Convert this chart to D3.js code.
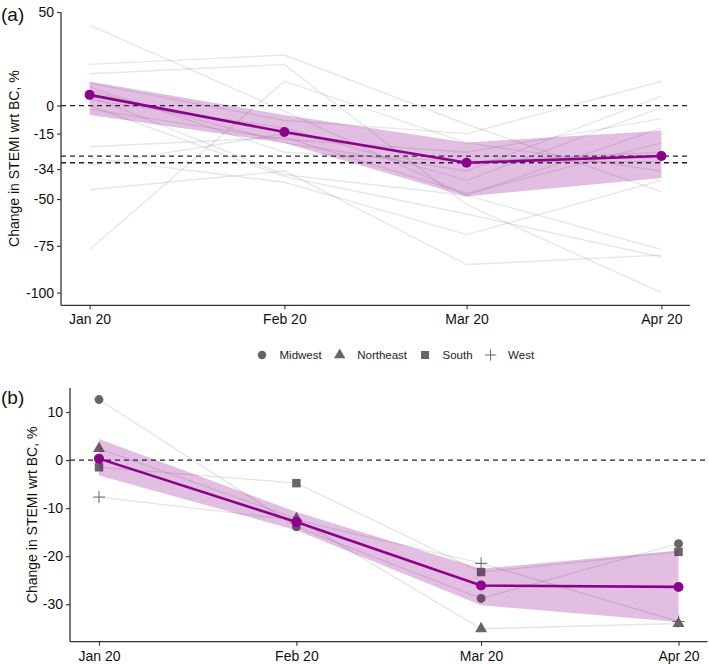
<!DOCTYPE html>
<html>
<head>
<meta charset="utf-8">
<script src="https://cdn.jsdelivr.net/npm/d3@7"></script>
<style>
  html, body { margin: 0; padding: 0; background: #fff; }
  svg { display: block; font-family: "Liberation Sans", Arial, sans-serif; }
</style>
</head>
<body>
<svg id="chart" width="709" height="664"></svg>
<script>
// ---------------- DATA ----------------
const monthDates = ["2020-01-01", "2020-02-01", "2020-03-01", "2020-04-01"];
const monthLabels = ["Jan 20", "Feb 20", "Mar 20", "Apr 20"];

// Panel (a)
const aYTicks = [50, 0, -15, -34, -50, -75, -100];
const aRefLines = [0, -27, -30.6];
const aMean = [5.7, -14.2, -30.6, -27.0];
const aLower = [-5, -20, -48.6, -38.8];
const aUpper = [12.8, -5, -19.7, -13.5];
const aStateLines = [
  [43, -3, -48, -77],
  [22, 27, -10, -46],
  [17, 22, -53, -100],
  [12, -8, -15, 13],
  [8, -20, -35, 5],
  [3, -12, -40, -1],
  [0, -38, -58, -81],
  [-2, -18, -25, -7],
  [-22, -17, -47, -20],
  [-28, -41, -69, -40],
  [-32, -15, -30, -30],
  [-45, -35, -85, -80],
  [-77, 13, -20, -35],
  [10, -25, -30, -25],
  [5, -37, -48, -12]
];

// Panel (b)
const bYTicks = [10, 0, -10, -20, -30];
const bRefLines = [0];
const regions = ["Midwest", "Northeast", "South", "West"];
const bMidwest = [12.6, -13.9, -28.8, -17.4];
const bNortheast = [2.4, -12.2, -35.1, -34.0];
const bSouth = [-1.5, -4.8, -23.3, -19.1];
const bWest = [-7.7, -12.5, -21.5, -33.6];
const bMean = [0.3, -12.9, -26.1, -26.4];
const bLower = [-3.2, -14.6, -30.2, -33.7];
const bUpper = [4.4, -10.8, -22.6, -18.8];

// ---------------- STYLE ----------------
const PURPLE = "#8b008b";
const GREY_LINE = "#9a9a9a";
const GREY_PT = "#666666";
const dates = monthDates.map(d => new Date(d + "T00:00:00"));
const DAY = 86400000;

const svg = d3.select("#chart");

function drawPanel(opts) {
  const g = svg.append("g");
  const x = d3.scaleTime()
    .domain([new Date(+dates[0] - 4.55 * DAY), new Date(+dates[3] + 4.55 * DAY)])
    .range([opts.left, opts.right]);
  const y = d3.scaleLinear().domain(opts.yDomain).range([opts.bottom, opts.top]);

  // reference dashed lines
  g.selectAll(".ref").data(opts.refLines).join("line")
    .attr("x1", opts.left).attr("x2", opts.right)
    .attr("y1", d => y(d)).attr("y2", d => y(d))
    .attr("stroke", "#222").attr("stroke-width", 1.3)
    .attr("stroke-dasharray", "5,4");

  const line = d3.line().x((d, i) => x(dates[i])).y(d => y(d));

  // grey individual lines
  g.selectAll(".grey").data(opts.greyLines).join("path")
    .attr("d", line).attr("fill", "none")
    .attr("stroke", GREY_LINE).attr("stroke-opacity", opts.greyOpacity)
    .attr("stroke-width", 1.4);

  // grey markers (panel b)
  if (opts.markers) {
    opts.markers.forEach(m => {
      m.values.forEach((v, i) => {
        drawSymbol(g, m.shape, x(dates[i]), y(v), 1);
      });
    });
  }

  // ribbon
  const area = d3.area()
    .x((d, i) => x(dates[i]))
    .y0((d, i) => y(opts.lower[i]))
    .y1((d, i) => y(opts.upper[i]));
  g.append("path").datum(opts.mean).attr("d", area)
    .attr("fill", PURPLE).attr("fill-opacity", 0.25);

  // mean line
  g.append("path").datum(opts.mean).attr("d", line)
    .attr("fill", "none").attr("stroke", PURPLE).attr("stroke-width", 2.6);
  g.selectAll(".mpt").data(opts.mean).join("circle")
    .attr("cx", (d, i) => x(dates[i])).attr("cy", d => y(d))
    .attr("r", 5).attr("fill", PURPLE);

  // axes
  const yAxis = d3.axisLeft(y).tickValues(opts.yTicks).tickSize(4).tickPadding(3)
    .tickFormat(d => String(d));
  const ga = g.append("g").attr("transform", `translate(${opts.left},0)`).call(yAxis);
  ga.select(".domain").attr("d", `M0,${opts.top}V${opts.bottom}`).attr("stroke", "#333").attr("stroke-width", 1.3);
  ga.selectAll(".tick line").attr("stroke", "#333").attr("stroke-width", 1.1);
  ga.selectAll(".tick text").attr("font-size", 14).attr("fill", "#111")
    .attr("font-family", "Liberation Sans, Arial, sans-serif");

  const xAxis = d3.axisBottom(x).tickValues(dates).tickSize(4).tickPadding(5)
    .tickFormat((d, i) => monthLabels[i]);
  const gx = g.append("g").attr("transform", `translate(0,${opts.bottom})`).call(xAxis);
  gx.select(".domain").attr("d", `M${opts.left},0H${opts.right}`).attr("stroke", "#333").attr("stroke-width", 1.3);
  gx.selectAll(".tick line").attr("stroke", "#333").attr("stroke-width", 1.1);
  gx.selectAll(".tick text").attr("font-size", 14).attr("fill", "#111")
    .attr("font-family", "Liberation Sans, Arial, sans-serif");

  // y title
  g.append("text")
    .attr("transform", `translate(${opts.titleX},${(opts.top + opts.bottom) / 2}) rotate(-90)`)
    .attr("text-anchor", "middle").attr("font-size", 14).attr("fill", "#111")
    .text("Change in STEMI wrt BC, %");

  // panel tag
  g.append("text").attr("x", 1).attr("y", opts.tagY)
    .attr("font-size", 19).attr("fill", "#111").text(opts.tag);
}

function drawSymbol(g, shape, cx, cy, scale) {
  if (shape === "plus") {
    const h = 6 * scale;
    g.append("path")
      .attr("d", `M${cx - h},${cy}H${cx + h}M${cx},${cy - h}V${cy + h}`)
      .attr("stroke", GREY_PT).attr("stroke-width", 1).attr("fill", "none");
    return;
  }
  const typ = shape === "circle" ? d3.symbolCircle : shape === "triangle" ? d3.symbolTriangle : d3.symbolSquare;
  const size = shape === "circle" ? 62 : shape === "triangle" ? 62 : 72;
  g.append("path")
    .attr("d", d3.symbol().type(typ).size(size * scale * scale)())
    .attr("transform", `translate(${cx},${cy})`)
    .attr("fill", GREY_PT);
}

// Panel (a)
drawPanel({
  left: 61, right: 690, top: 12, bottom: 305.3,
  yDomain: [-106.8, 50], yTicks: aYTicks, refLines: aRefLines,
  greyLines: aStateLines, greyOpacity: 0.24,
  mean: aMean, lower: aLower, upper: aUpper,
  titleX: 19, tag: "(a)", tagY: 21
});

// Panel (b)
const shapes = ["circle", "triangle", "square", "plus"];
const bSeries = [bMidwest, bNortheast, bSouth, bWest];
drawPanel({
  left: 70, right: 707.5, top: 388, bottom: 641.7,
  yDomain: [-37.8, 15], yTicks: bYTicks, refLines: bRefLines,
  greyLines: bSeries, greyOpacity: 0.26,
  mean: bMean, lower: bLower, upper: bUpper,
  markers: bSeries.map((v, i) => ({ values: v, shape: shapes[i] })),
  titleX: 37, tag: "(b)", tagY: 404
});

// Legend
const lg = svg.append("g");
let lx = 262;
const ly = 355;
regions.forEach((r, i) => {
  drawSymbol(lg, shapes[i], lx, ly, 0.95);
  const t = lg.append("text").attr("x", lx + 17.5).attr("y", ly + 4)
    .attr("font-size", 11.5).attr("fill", "#222").text(r);
  lx = lx + 17.5 + t.node().getComputedTextLength() + 18;
});
</script>
</body>
</html>
